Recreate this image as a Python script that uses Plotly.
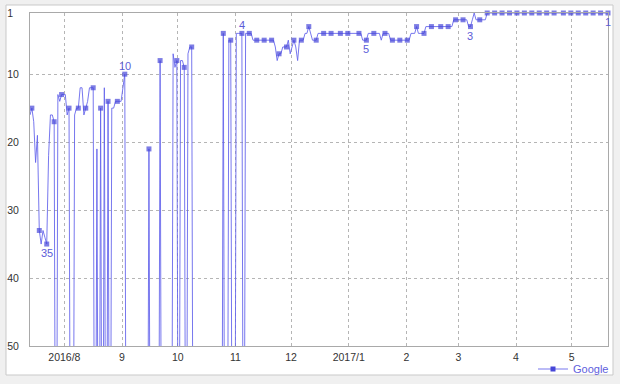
import plotly.graph_objects as go
from datetime import datetime, timedelta

N = None  # not ranked inside the top 50 that day

START = datetime(2016, 7, 13, 12)
SERIES_NAME = "Google"

# daily Google rank, 2016-07-13 .. 2017-05-20
RANKS = [
    16, 15, 17, 23, 19, 33, 35, 33, 34, 35,
    22, 16, 16, 17, N, 13, 14, 13, 13, 13,
    16, 15, N, N, 16, 15, 15, 12, 12, 16,
    15, 14, 12, 12, 12, N, 21, N, 15, N,
    12, N, 14, N, 15, 15, 14, 14, 14, 14,
    12, 10, N, N, N, N, N, N, N, N,
    N, N, N, N, 21, N, N, N, N, N,
    8, N, N, N, N, N, N, 7, 9, 8,
    N, 8, 8, 9, N, 7, 6, 6, N, N,
    N, N, N, N, N, N, N, N, N, N,
    N, N, N, N, 4, N, N, 5, 5, N,
    N, 4, 4, 4, 4, N, 4, 4, 4, 4,
    5, 5, 5, 5, 5, 5, 5, 5, 5, 5,
    5, 5, 6, 8, 7, 7, 6, 6, 6, 5,
    7, 6, 5, 6, 8, 5, 5, 5, 4, 4,
    3, 4, 5, 5, 5, 4, 4, 4, 4, 4,
    4, 4, 4, 4, 4, 4, 4, 4, 4, 4,
    4, 4, 4, 4, 4, 4, 4, 4, 4, 5,
    5, 5, 4, 4, 4, 4, 4, 4, 4, 5,
    4, 4, 4, 4, 5, 5, 5, 5, 5, 5,
    5, 5, 5, 5, 5, 4, 4, 4, 3, 4,
    4, 4, 4, 3, 3, 3, 3, 3, 3, 3,
    3, 3, 3, 3, 3, 3, 3, 3, 2, 2,
    2, 2, 2, 2, 2, 2, 3, 3, 2, 1,
    2, 2, 2, 2, 2, 2, 1, 1, 1, 1,
    1, 1, 1, 1, 1, 1, 1, 1, 1, 1,
    1, 1, 1, 1, 1, 1, 1, 1, 1, 1,
    1, 1, 1, 1, 1, 1, 1, 1, 1, 1,
    1, 1, 1, 1, 1, 1, 1, 1, 1, 1,
    1, 1, 1, 1, 1, 1, 1, 1, 1, 1,
    1, 1, 1, 1, 1, 1, 1, 1, 1, 1,
    1, 1,
]

# days (offset from START) on which the chart draws a point marker
MARKER_DAYS = [1, 5, 9, 13, 17, 21, 26, 30, 34, 38, 42, 47, 51, 64, 70, 79, 83, 87,
               104, 108, 114, 118, 122, 126, 130, 134, 138, 142, 146, 150, 154, 158,
               162, 167, 171, 177, 181, 185, 191, 195, 199, 203, 208, 212, 216, 221,
               225, 229, 233, 237, 242, 246, 250, 254, 258, 262, 266, 270, 274, 278,
               282, 287, 291, 295, 299, 303, 307, 311]

# labelled points: (day offset, side of the label)
LABELS = [(51, "above"), (9, "below"), (114, "above"), (181, "below"),
          (237, "below"), (311, "below")]

MONTH_TICKS = ["2016-08-01", "2016-09-01", "2016-10-01", "2016-11-01", "2016-12-01",
               "2017-01-01", "2017-02-01", "2017-03-01", "2017-04-01", "2017-05-01"]
MONTH_LABELS = ["2016/8", "9", "10", "11", "12", "2017/1", "2", "3", "4", "5"]
RANK_TICKS = [1, 10, 20, 30, 40, 50]

# ---------------------------------------------------------------------------
FONT = "Liberation Sans"
LINE_C = "rgba(100,100,236,0.88)"
MARK_C = "#4646d8"
LABEL_C = "#5c5cd8"

dates = [START + timedelta(days=i) for i in range(len(RANKS))]
BELOW_FLOOR = 100  # unranked days are drawn under the 50 floor (clipped)
y_vals = [r if r is not None else BELOW_FLOOR for r in RANKS]
marker_set = set(MARKER_DAYS)
sizes = [5 if (i in marker_set and RANKS[i] is not None) else 0 for i in range(len(RANKS))]

fig = go.Figure()
fig.add_trace(go.Scatter(
    x=dates, y=y_vals, mode="lines+markers", showlegend=False,
    line=dict(color=LINE_C, width=1),
    marker=dict(symbol="square", size=sizes, color=MARK_C, line=dict(width=0)),
    cliponaxis=False, hoverinfo="skip",
))
# legend entry
fig.add_trace(go.Scatter(
    x=[None], y=[None], mode="lines+markers", name=SERIES_NAME,
    line=dict(color=LINE_C, width=1),
    marker=dict(symbol="square", size=5, color=MARK_C),
))

annotations = []
for day, side in LABELS:
    annotations.append(dict(
        x=dates[day], y=RANKS[day], xref="x", yref="y", text=str(RANKS[day]),
        showarrow=False, yshift=8 if side == "above" else -9,
        font=dict(family=FONT, size=11, color=LABEL_C),
    ))

W, H = 620, 384
PL, PR, PT, PB = 30, 608, 13, 346
def px_x(p):
    return (p - PL) / (PR - PL)
def px_y(p):
    return (PB - p) / (PB - PT)

shapes = [dict(type="rect", xref="paper", yref="paper", layer="below",
               x0=px_x(6), x1=px_x(613), y0=px_y(375), y1=px_y(5),
               fillcolor="#ffffff", line=dict(color="#c9c9c9", width=1))]

fig.update_layout(
    width=W, height=H,
    margin=dict(l=PL, r=W - PR, t=PT, b=H - PB, autoexpand=False),
    paper_bgcolor="#f0f0f0", plot_bgcolor="#f8f8f8",
    font=dict(family=FONT, size=10.5, color="#333333"),
    showlegend=True,
    legend=dict(x=px_x(614), xanchor="right", y=px_y(369), yanchor="middle",
                bgcolor="rgba(0,0,0,0)", borderwidth=0, itemwidth=30,
                font=dict(family=FONT, size=11, color="#6060dd")),
    annotations=annotations, shapes=shapes,
)
fig.update_xaxes(
    type="date", range=[dates[0], dates[-1]],
    tickmode="array", tickvals=MONTH_TICKS, ticktext=MONTH_LABELS,
    showgrid=True, gridcolor="#b5b5b5", griddash="3px,3px", gridwidth=1,
    showline=True, linecolor="#a9a9a9", linewidth=1, mirror=True,
    ticks="", ticklabelstandoff=1, zeroline=False,
    tickfont=dict(family=FONT, size=10.5, color="#333333"),
)
fig.update_yaxes(
    range=[50, 1], tickmode="array", tickvals=RANK_TICKS,
    ticktext=[("%d\u2007" % v) if v < 10 else str(v) for v in RANK_TICKS],
    showgrid=True, gridcolor="#b5b5b5", griddash="3px,3px", gridwidth=1,
    showline=True, linecolor="#a9a9a9", linewidth=1, mirror=True,
    ticks="", ticklabelstandoff=8, zeroline=False,
    tickfont=dict(family=FONT, size=10.5, color="#333333"),
)

fig.write_html("out.html")
